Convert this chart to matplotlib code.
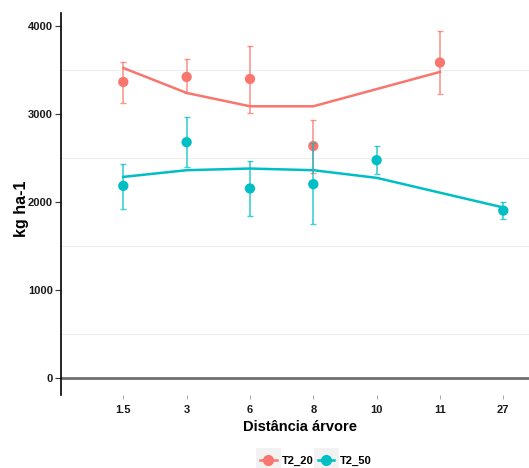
import numpy as np
import matplotlib
matplotlib.use("Agg")
import matplotlib.pyplot as plt
from matplotlib.lines import Line2D
from matplotlib.patches import Rectangle
from matplotlib.legend_handler import HandlerLine2D

plt.rcParams['font.family'] = ['Liberation Sans', 'DejaVu Sans']

# categories on the x axis
distances = ["1.5", "3", "6", "8", "10", "11", "27"]

# T2_20: observed means, error bar limits and fitted line
t20_x = ["1.5", "3", "6", "8", "11"]
t20_mean = [3368, 3425, 3402, 2639, 3589]
t20_low = [3129, 3243, 3015, 2336, 3231]
t20_high = [3600, 3630, 3782, 2940, 3953]
t20_fit = [3527, 3243, 3091, 3091, 3482]

# T2_50
t50_x = ["1.5", "3", "6", "8", "10", "27"]
t50_mean = [2186, 2683, 2156, 2205, 2478, 1905]
t50_low = [1917, 2395, 1848, 1757, 2319, 1814]
t50_high = [2433, 2972, 2467, 2670, 2640, 1997]
t50_fit = [2288, 2364, 2383, 2364, 2277, 1940]

colors = {"T2_20": "#F8766D", "T2_50": "#00BFC4"}


class KeyHandler(HandlerLine2D):
    # grey background behind each legend key, like ggplot
    def create_artists(self, legend, orig_handle, xdescent, ydescent,
                       width, height, fontsize, trans):
        arts = super().create_artists(legend, orig_handle, xdescent, ydescent,
                                      width, height, fontsize, trans)
        bg = Rectangle((-xdescent - 3, -ydescent - 6), width + 6, height + 12,
                       facecolor="#F2F2F2", edgecolor="none", transform=trans,
                       zorder=0)
        return [bg] + arts


fig = plt.figure(figsize=(5.29, 4.68), dpi=100)
ax = fig.add_axes([0.1153, 0.156, 0.8847, 0.816])

pos = {d: i + 1 for i, d in enumerate(distances)}

series = [
    ("T2_20", t20_x, t20_mean, t20_low, t20_high, t20_fit),
    ("T2_50", t50_x, t50_mean, t50_low, t50_high, t50_fit),
]

for name, xs, mean, low, high, fit in series:
    xp = [pos[d] for d in xs]
    ax.plot(xp, fit, color=colors[name], lw=1.8, zorder=3)
    ax.scatter(xp, mean, s=55, color=colors[name], zorder=4, edgecolors="none")

for name, xs, mean, low, high, fit in series:
    xp = [pos[d] for d in xs]
    mean = np.array(mean)
    yerr = [mean - np.array(low), np.array(high) - mean]
    ax.errorbar(xp, mean, yerr=yerr, fmt="none", ecolor=colors[name],
                elinewidth=1.2, capsize=2.5, capthick=1.0, alpha=0.75,
                zorder=5)

ax.axhline(0, color="#707070", lw=2, zorder=2)

ax.set_xlim(0.016, 7.406)
ax.set_ylim(-193, 4151)
ax.set_xticks(range(1, len(distances) + 1))
ax.set_xticklabels(distances)
ax.set_yticks([0, 1000, 2000, 3000, 4000])
ax.set_yticks([500, 1500, 2500, 3500], minor=True)
ax.grid(which="minor", axis="y", color="#EEEEEE", lw=0.8)
ax.set_axisbelow(True)

for s in ["top", "right", "bottom"]:
    ax.spines[s].set_visible(False)
ax.spines["left"].set_linewidth(1.2)
ax.spines["left"].set_color("black")

ax.tick_params(axis="y", which="major", length=4, width=0.8, color="#333333",
               labelsize=8, labelcolor="#1a1a1a", pad=2)
ax.tick_params(axis="y", which="minor", length=0)
ax.tick_params(axis="x", length=3, width=0.6, color="#999999",
               labelsize=8, labelcolor="#1a1a1a", pad=4)
for lab in ax.get_xticklabels() + ax.get_yticklabels():
    lab.set_fontweight("bold")

ax.set_xlabel("Distância árvore", fontsize=10.5, fontweight="bold")
ax.set_ylabel("kg ha-1", fontsize=11.5, fontweight="bold")
ax.xaxis.set_label_coords(0.511, -0.065)
ax.yaxis.set_label_coords(-0.069, 0.487)

handles = [Line2D([], [], color=colors[n], lw=1.8, marker="o", markersize=7)
           for n in colors]
fig.legend(handles, list(colors), loc="center", bbox_to_anchor=(0.597, 0.015),
           ncol=2, frameon=False, handlelength=1.5,
           handletextpad=0.5, columnspacing=0.35,
           prop={"weight": "bold", "size": 8},
           handler_map={Line2D: KeyHandler()})

fig.savefig("out.png", dpi=100)
